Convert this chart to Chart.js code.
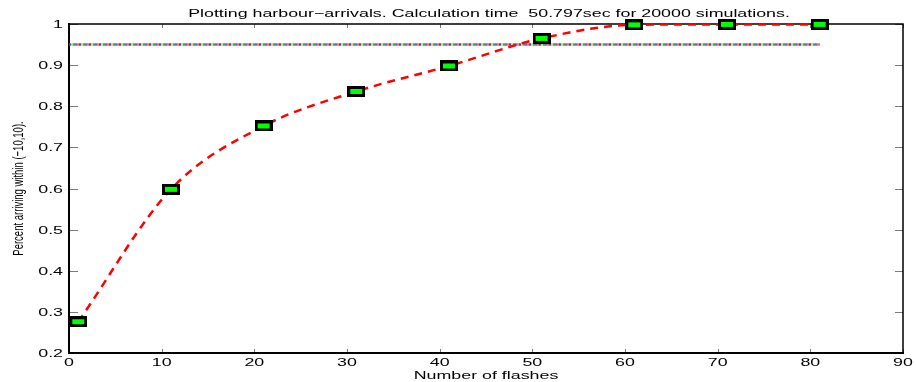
<!DOCTYPE html>
<html>
<head>
<meta charset="utf-8">
<script src="https://cdn.jsdelivr.net/npm/chart.js@4/dist/chart.umd.min.js"></script>
<style>
  html, body { margin: 0; padding: 0; background: #ffffff; }
  #wrap { width: 916px; height: 382px; }
</style>
</head>
<body>
<div id="wrap"><canvas id="c" width="916" height="382"></canvas></div>
<script>
// ---- data ----
const flashes = [1, 11, 21, 31, 41, 51, 61, 71, 81];
const arrived = [0.276, 0.598, 0.752, 0.836, 0.898, 0.965, 0.998, 0.999, 0.999];
const thresholdX = [0, 81];
const thresholdValue = 0.95;
const xTickLabels = [0, 10, 20, 30, 40, 50, 60, 70, 80, 90];
const yTickLabels = [0.2, 0.3, 0.4, 0.5, 0.6, 0.7, 0.8, 0.9, 1];
const titleText = 'Plotting harbour\u2212arrivals. Calculation time  50.797sec for 20000 simulations.';
const xTitle = 'Number of flashes';
const yTitle = 'Percent arriving within (\u221210,10).';

// ---- marker image ----
const marker = document.createElement('canvas');
marker.width = 18; marker.height = 11;
(function () {
  const m = marker.getContext('2d');
  m.fillStyle = '#000000';
  m.fillRect(0, 0, 18, 11);
  m.fillStyle = '#00ff00';
  m.fillRect(3, 3, 12, 5);
})();

const curvePoints = flashes.map((x, i) => ({ x: x, y: arrived[i] }));
const thrPoints = thresholdX.map(x => ({ x: x, y: thresholdValue }));
const thrColors = ['#2f4fd8', '#e8862a', '#c83cc8', '#20a8a8', '#e0e020'];

const datasets = [{
  data: curvePoints,
  borderColor: '#ff0000',
  borderWidth: 2.5,
  borderDash: [8, 6],
  cubicInterpolationMode: 'monotone',
  pointStyle: marker,
  pointRadius: 9,
  clip: false,
  showLine: true
}];
thrColors.forEach((col, i) => {
  datasets.push({
    data: thrPoints,
    borderColor: col,
    borderWidth: 2.5,
    borderDash: [2, 8],
    borderDashOffset: i * 2,
    pointRadius: 0,
    showLine: true,
    clip: false
  });
});

const STRETCH = 1.62;
function stretchText(ctx, text, x, y, align, baseline, font, rotate) {
  ctx.save();
  ctx.translate(x, y);
  ctx.scale(STRETCH, 1);
  if (rotate) ctx.rotate(-Math.PI / 2);
  ctx.font = font;
  ctx.fillStyle = '#000000';
  ctx.textAlign = align;
  ctx.textBaseline = baseline;
  ctx.fillText(text, 0, 0);
  ctx.restore();
}

const framePlugin = {
  id: 'frame',
  beforeDatasetsDraw(chart) {
    const ctx = chart.ctx, a = chart.chartArea;
    const xs = chart.scales.x, ys = chart.scales.y;
    ctx.save();
    ctx.strokeStyle = '#7a7a7a';
    ctx.lineWidth = 1;
    ctx.beginPath();
    xTickLabels.forEach(v => {
      const px = Math.round(xs.getPixelForValue(v)) + 0.5;
      ctx.moveTo(px, a.bottom); ctx.lineTo(px, a.bottom - 4);
      ctx.moveTo(px, a.top); ctx.lineTo(px, a.top + 4);
    });
    yTickLabels.forEach(v => {
      const py = Math.round(ys.getPixelForValue(v)) + 0.5;
      ctx.moveTo(a.left, py); ctx.lineTo(a.left + 9, py);
      ctx.moveTo(a.right, py); ctx.lineTo(a.right - 8, py);
    });
    ctx.stroke();
    ctx.strokeStyle = '#000000';
    ctx.lineWidth = 1.5;
    ctx.beginPath();
    ctx.moveTo(a.left, a.top); ctx.lineTo(a.right, a.top); ctx.lineTo(a.right, a.bottom);
    ctx.stroke();
    ctx.lineWidth = 2;
    ctx.beginPath();
    ctx.moveTo(a.left, a.top - 1); ctx.lineTo(a.left, a.bottom); ctx.lineTo(a.right + 1, a.bottom);
    ctx.stroke();
    ctx.restore();
  },
  afterDraw(chart) {
    const ctx = chart.ctx, a = chart.chartArea;
    const xs = chart.scales.x, ys = chart.scales.y;
    const tickFont = '11px "Liberation Sans", Arial, sans-serif';
    xTickLabels.forEach(v => {
      stretchText(ctx, String(v), xs.getPixelForValue(v), a.bottom + 13, 'center', 'alphabetic', tickFont);
    });
    yTickLabels.forEach(v => {
      stretchText(ctx, String(v), a.left - 6, ys.getPixelForValue(v) + 4, 'right', 'alphabetic', tickFont);
    });
    const cx = (a.left + a.right) / 2;
    stretchText(ctx, titleText, cx + 3, a.top - 7, 'center', 'alphabetic', '11px "Liberation Sans", Arial, sans-serif');
    stretchText(ctx, xTitle, cx, a.bottom + 26, 'center', 'alphabetic', '11px "Liberation Sans", Arial, sans-serif');
    stretchText(ctx, yTitle, 19, (a.top + a.bottom) / 2, 'center', 'middle', '9.5px "Liberation Sans", Arial, sans-serif', true);
  }
};

new Chart(document.getElementById('c'), {
  type: 'scatter',
  data: { datasets: datasets },
  options: {
    responsive: false,
    animation: false,
    events: [],
    layout: { padding: { left: 69, right: 13, top: 24, bottom: 29 } },
    plugins: { legend: { display: false }, title: { display: false }, tooltip: { enabled: false } },
    scales: {
      x: { type: 'linear', min: 0, max: 90, display: false },
      y: { type: 'linear', min: 0.2, max: 1, display: false }
    }
  },
  plugins: [framePlugin]
});
</script>
</body>
</html>
